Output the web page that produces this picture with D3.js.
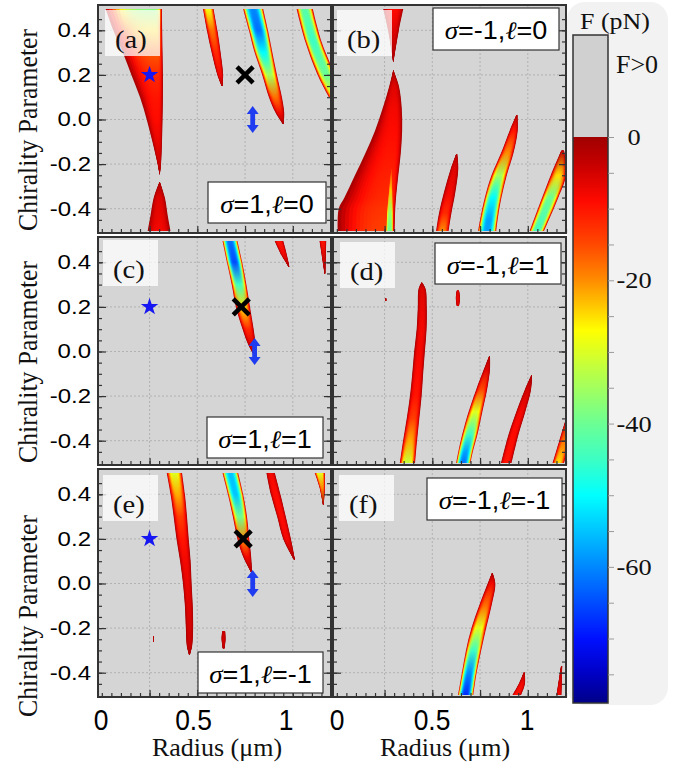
<!DOCTYPE html>
<html>
<head>
<meta charset="utf-8">
<title>Force maps</title>
<script src="https://d3js.org/d3.v7.min.js"></script>
<style>
  body { margin: 0; background: #fff; }
  svg { display: block; }
</style>
</head>
<body>
<svg width="680" height="765"></svg>
<script>
// panel texts
const panelLetters = ["(a)", "(b)", "(c)", "(d)", "(e)", "(f)"];
const panelSigma = ["1", "-1", "1", "-1", "1", "-1"];
const panelEll = ["0", "0", "1", "1", "-1", "-1"];

// axes
const chiTicks = [-0.4, -0.2, 0.0, 0.2, 0.4];
const radiusGrid = [0.25, 0.5, 0.75, 1.0];
const radiusLabels = [0, 0.5, 1];
const colorTicks = [0, -20, -40, -60];

// markers, left column panels (a), (c), (e)
const starR = [0.25, 0.25, 0.25];
const starChi = [0.2, 0.2, 0.2];
const crossR = [0.75, 0.73, 0.74];
const crossChi = [0.2, 0.2, 0.2];
const arrowR = [0.79, 0.80, 0.79];
const arrowChi = [0.0, 0.0, 0.0];

// force regions (F<0), one list of rows per region
// row: [chi, rLeft, rRight, Fcore] or [chi, rLeft, rCore, rRight, Fcore]
const regionsA = [
  [[0.495, 0.02, 0.27, 0.315, -38], [0.4, 0.06, 0.28, 0.316, -25], [0.3, 0.11, 0.29, 0.318, -16], [0.2, 0.155, 0.29, 0.32, -12], [0.1, 0.2, 0.29, 0.32, -10], [0.0, 0.235, 0.29, 0.318, -9], [-0.1, 0.265, 0.295, 0.315, -7], [-0.2, 0.292, 0.3, 0.31, -4], [-0.245, 0.302, 0.303, 0.304, -1]],
  [[-0.28, 0.302, 0.303, 0.304, -1], [-0.35, 0.272, 0.3, 0.33, -6], [-0.43, 0.255, 0.3, 0.345, -7], [-0.5, 0.24, 0.3, 0.36, -8]],
  [[0.495, 0.53, 0.585, -28], [0.4, 0.55, 0.605, -18], [0.3, 0.575, 0.622, -12], [0.2, 0.605, 0.635, -8], [0.15, 0.628, 0.632, -2]],
  [[0.495, 0.74, 0.845, -60], [0.4, 0.77, 0.87, -62], [0.3, 0.8, 0.893, -50], [0.2, 0.84, 0.917, -35], [0.1, 0.875, 0.943, -18], [0.03, 0.91, 0.955, -8], [-0.02, 0.948, 0.952, -1]],
  [[0.495, 1.02, 1.105, -42], [0.35, 1.065, 1.15, -45], [0.2, 1.13, 1.22, -40], [0.1, 1.19, 1.26, -30]]
];
const regionsB = [
  [[0.495, 0.243, 0.3, 0.348, -9], [0.4, 0.268, 0.3, 0.325, -6], [0.26, 0.295, 0.296, 0.297, -1]],
  [[0.22, 0.295, 0.296, 0.297, -1], [0.15, 0.275, 0.3, 0.325, -6], [0.05, 0.24, 0.3, 0.34, -8], [-0.05, 0.2, 0.3, 0.342, -9], [-0.15, 0.15, 0.295, 0.335, -10], [-0.25, 0.095, 0.29, 0.322, -11], [-0.35, 0.04, 0.285, 0.31, -12], [-0.4, 0.01, 0.28, 0.306, -13], [-0.5, 0.005, 0.275, 0.303, -14]],
  [[-0.155, 0.625, 0.63, -2], [-0.22, 0.597, 0.636, -6], [-0.33, 0.56, 0.62, -8], [-0.42, 0.535, 0.6, -12], [-0.5, 0.52, 0.585, -20]],
  [[0.02, 0.94, 0.945, -2], [-0.05, 0.905, 0.947, -10], [-0.15, 0.86, 0.925, -20], [-0.25, 0.81, 0.89, -35], [-0.35, 0.775, 0.862, -50], [-0.45, 0.75, 0.842, -58], [-0.5, 0.74, 0.835, -58]],
  [[-0.14, 1.175, 1.19, -3], [-0.25, 1.12, 1.2, -25], [-0.35, 1.075, 1.16, -40], [-0.5, 1.01, 1.085, -45]]
];
const regionsC = [
  [[0.495, 0.632, 0.71, -62], [0.4, 0.655, 0.735, -65], [0.3, 0.68, 0.757, -45], [0.2, 0.702, 0.776, -25], [0.1, 0.737, 0.795, -12], [0.03, 0.767, 0.805, -6], [-0.02, 0.798, 0.802, -1]],
  [[0.495, 0.905, 0.95, -10], [0.44, 0.935, 0.967, -8], [0.38, 0.978, 0.982, -1]],
  [[0.495, 1.14, 1.175, -10], [0.35, 1.166, 1.17, -1]]
];
const regionsD = [
  [[0.308, 0.443, 0.447, -2], [0.28, 0.428, 0.465, -6], [0.2, 0.424, 0.471, -7], [0.1, 0.418, 0.47, -8], [0.0, 0.405, 0.461, -8], [-0.1, 0.395, 0.452, -9], [-0.2, 0.383, 0.444, -10], [-0.3, 0.366, 0.432, -14], [-0.4, 0.347, 0.42, -22], [-0.5, 0.33, 0.41, -32]],
  [[0.238, 0.254, 0.259, -3], [0.226, 0.254, 0.259, -3]],
  [[0.272, 0.628, 0.64, -6], [0.24, 0.623, 0.645, -7], [0.205, 0.628, 0.64, -6]],
  [[-0.02, 0.798, 0.802, -1], [-0.08, 0.77, 0.802, -6], [-0.17, 0.73, 0.787, -15], [-0.27, 0.69, 0.762, -30], [-0.37, 0.657, 0.737, -45], [-0.45, 0.636, 0.712, -58], [-0.5, 0.625, 0.7, -62]],
  [[-0.108, 1.018, 1.022, -1], [-0.17, 0.985, 1.017, -5], [-0.27, 0.94, 0.987, -8], [-0.37, 0.9, 0.952, -9], [-0.5, 0.86, 0.915, -10]],
  [[-0.3, 1.2, 1.215, -3], [-0.4, 1.165, 1.215, -18], [-0.5, 1.13, 1.19, -25]]
];
const regionsE = [
  [[0.495, 0.34, 0.42, -30], [0.4, 0.36, 0.435, -22], [0.3, 0.376, 0.446, -14], [0.2, 0.391, 0.455, -10], [0.1, 0.41, 0.465, -8], [0.0, 0.425, 0.47, -7], [-0.1, 0.435, 0.476, -6], [-0.2, 0.44, 0.478, -5], [-0.28, 0.445, 0.473, -4], [-0.32, 0.457, 0.461, -1]],
  [[-0.235, 0.268, 0.272, -3], [-0.26, 0.268, 0.272, -3]],
  [[-0.215, 0.63, 0.646, -4], [-0.25, 0.627, 0.648, -5], [-0.29, 0.633, 0.643, -3]],
  [[0.495, 0.632, 0.714, -55], [0.4, 0.66, 0.74, -55], [0.3, 0.686, 0.76, -40], [0.2, 0.71, 0.772, -20], [0.12, 0.74, 0.782, -8], [0.05, 0.782, 0.786, -1]],
  [[0.495, 0.862, 0.906, -8], [0.4, 0.885, 0.935, -9], [0.3, 0.918, 0.963, -9], [0.2, 0.95, 0.99, -8], [0.105, 1.008, 1.012, -1]],
  [[0.495, 1.115, 1.168, -30], [0.43, 1.14, 1.168, -20], [0.352, 1.158, 1.162, -1]]
];
const regionsF = [
  [[0.046, 0.812, 0.816, -1], [0.0, 0.79, 0.83, -8], [-0.1, 0.745, 0.81, -18], [-0.2, 0.705, 0.782, -30], [-0.3, 0.676, 0.756, -45], [-0.4, 0.655, 0.732, -60], [-0.5, 0.635, 0.715, -68]],
  [[-0.4, 0.978, 0.984, -2], [-0.45, 0.953, 0.985, -8], [-0.5, 0.92, 0.965, -10]],
  [[-0.37, 1.174, 1.18, -2], [-0.5, 1.15, 1.176, -8]]
];
// stronger streaks lying inside a wider region (inner part only is drawn)
const streaksB = [
  [[-0.22, 0.284, 0.29, -12], [-0.32, 0.27, 0.294, -24], [-0.42, 0.258, 0.298, -36], [-0.5, 0.254, 0.299, -40]]
];
const regions = [regionsA, regionsB, regionsC, regionsD, regionsE, regionsF];
const streaks = [[], streaksB, [], [], [], []];

// jet-like colour map of F (pN)
const cmap = d3.scaleLinear()
  .domain([0, -4, -9, -15, -20, -27, -33, -40, -45, -50, -55, -60, -65, -70, -75, -79])
  .range(["#a00000", "#c80000", "#ff0a00", "#ff4800", "#ff8c00", "#ffff00", "#b8ff48", "#6cff94",
          "#3cffc4", "#00ffff", "#00c4ff", "#0088ff", "#004cff", "#0010ff", "#0000c4", "#000088"])
  .clamp(true);

const serif = "'Liberation Serif','Times New Roman',serif";
const sans = "'Liberation Sans',Arial,sans-serif";

const svg = d3.select("svg");
const defs = svg.append("defs");

const W = 233, H = 223;
const colX = [98, 333];
const rowY = [8, 240, 472];
const NL = 14;   // nested layers per region
let gid = 0;

function stretch(sel, k) {
  sel.each(function () {
    const w = this.getComputedTextLength();
    d3.select(this).attr("textLength", w * k).attr("lengthAdjust", "spacingAndGlyphs");
  });
}

function drawRegion(g, rows, xs, ys, kStart = 0) {
  const core = d => d.length === 5 ? d[2] : (d[1] + d[2]) / 2;
  const right = d => d.length === 5 ? d[3] : d[2];
  const force = d => d[d.length - 1];
  const yTop = ys(rows[0][0]), yBot = ys(rows[rows.length - 1][0]);
  for (let k = kStart; k < NL; k++) {
    const f = 1 - k / NL;
    const fm = f - 0.5 / NL;
    const id = "lg" + (gid++);
    const grad = defs.append("linearGradient").attr("id", id)
      .attr("gradientUnits", "userSpaceOnUse")
      .attr("x1", 0).attr("x2", 0).attr("y1", yTop).attr("y2", yBot);
    rows.forEach(d => grad.append("stop")
      .attr("offset", (ys(d[0]) - yTop) / (yBot - yTop))
      .attr("stop-color", cmap(force(d) * (1 - fm * fm * fm))));
    const area = d3.area()
      .curve(d3.curveCatmullRom)
      .y(d => ys(d[0]))
      .x0(d => xs(core(d) - f * (core(d) - d[1])))
      .x1(d => xs(core(d) + f * (right(d) - core(d))));
    g.append("path").attr("d", area(rows)).attr("fill", `url(#${id})`);
  }
}

// colour bar backdrop
svg.append("rect").attr("x", 567).attr("y", 2).attr("width", 101).attr("height", 703)
  .attr("rx", 18).attr("fill", "#f2f2f2");

// legend boxes [x, y, w, h]
const legendBox = [[208, 182, 118, 41], [433, 8, 126, 42], [207, 417, 116, 41],
                   [435, 243, 126, 41], [198, 652, 125, 41], [427, 478, 135, 42]];
const letterBox = [[105, 10], [337, 10], [103, 240], [340, 242], [103, 475], [339, 475]];

panelLetters.forEach((letter, i) => {
  const col = i % 2, row = Math.floor(i / 2);
  const xs = d3.scaleLinear().domain([-0.02, 1.2]).range([colX[col], colX[col] + W]);
  const ys = d3.scaleLinear().domain([-0.5, 0.5]).range([rowY[row] + H, rowY[row]]);
  const fx = colX[col], fy = rowY[row] - 3, fw = W, fh = H + 5;
  const g = svg.append("g");

  defs.append("clipPath").attr("id", "clip" + i).append("rect")
    .attr("x", fx).attr("y", fy).attr("width", fw).attr("height", fh);

  g.append("rect").attr("x", fx).attr("y", fy).attr("width", fw).attr("height", fh)
    .attr("fill", "#d5d5d5");

  // dashed grid
  g.selectAll(".gx").data(radiusGrid).join("line")
    .attr("x1", d => xs(d)).attr("x2", d => xs(d)).attr("y1", fy).attr("y2", fy + fh)
    .attr("stroke", "#a8a8a8").attr("stroke-width", 0.8).attr("stroke-dasharray", "2,2");
  g.selectAll(".gy").data(chiTicks).join("line")
    .attr("x1", fx).attr("x2", fx + fw).attr("y1", d => ys(d)).attr("y2", d => ys(d))
    .attr("stroke", "#a8a8a8").attr("stroke-width", 0.8).attr("stroke-dasharray", "2,2");

  const inner = g.append("g").attr("clip-path", `url(#clip${i})`);
  regions[i].forEach(rows => drawRegion(inner, rows, xs, ys));
  streaks[i].forEach(rows => drawRegion(inner, rows, xs, ys, 4));

  // ticks pointing inward
  const minorChi = d3.range(-9, 10).map(v => v * 0.05);
  const minorR = d3.range(0, 25).map(v => v * 0.05);
  const tickStyle = s => s.call(a => a.select(".domain").remove())
    .call(a => a.selectAll("line").attr("stroke", "#333").attr("stroke-width", 1.2));
  g.append("g").attr("transform", `translate(${fx},0)`)
    .call(d3.axisLeft(ys).tickValues(minorChi).tickSize(-4).tickFormat("")).call(tickStyle);
  g.append("g").attr("transform", `translate(${fx + fw},0)`)
    .call(d3.axisRight(ys).tickValues(minorChi).tickSize(-4).tickFormat("")).call(tickStyle);
  g.append("g").attr("transform", `translate(${fx + fw},0)`)
    .call(d3.axisRight(ys).tickValues(chiTicks).tickSize(-7).tickFormat("")).call(tickStyle);
  g.append("g").attr("transform", `translate(0,${fy + fh})`)
    .call(d3.axisBottom(xs).tickValues(minorR).tickSize(-4).tickFormat("")).call(tickStyle);
  g.append("g").attr("transform", `translate(0,${fy + fh})`)
    .call(d3.axisBottom(xs).tickValues(radiusGrid).tickSize(-7).tickFormat("")).call(tickStyle);
  const yAx = g.append("g").attr("transform", `translate(${fx},0)`)
    .call(d3.axisLeft(ys).tickValues(chiTicks).tickSize(-8).tickPadding(7)
      .tickFormat(col === 0 ? (d => d.toFixed(1)) : ""))
    .call(tickStyle);
  yAx.selectAll("text").attr("font-family", sans).attr("font-size", 20).attr("fill", "#000")
    .call(stretch, 1.2);

  g.append("rect").attr("x", fx).attr("y", fy).attr("width", fw).attr("height", fh)
    .attr("fill", "none").attr("stroke", "#333").attr("stroke-width", 2);

  // panel letter
  const lb = letterBox[i];
  g.append("rect").attr("x", lb[0]).attr("y", lb[1]).attr("width", 55).attr("height", 46)
    .attr("fill", "#fff").attr("fill-opacity", 0.75);
  g.append("text").attr("x", lb[0] + 10).attr("y", lb[1] + 38)
    .attr("font-family", serif).attr("font-size", 26).attr("fill", "#111")
    .text(letter).call(stretch, 1.1);

  // sigma / l legend
  const b = legendBox[i];
  g.append("rect").attr("x", b[0]).attr("y", b[1]).attr("width", b[2]).attr("height", b[3])
    .attr("fill", "#fff").attr("stroke", "#333").attr("stroke-width", 1.2);
  const t = g.append("text").attr("x", b[0] + b[2] / 2).attr("y", b[1] + 31)
    .attr("text-anchor", "middle").attr("font-size", 25).attr("fill", "#000");
  t.append("tspan").attr("font-family", serif).attr("font-style", "italic").text("σ");
  t.append("tspan").attr("font-family", sans).text("=" + panelSigma[i] + ",");
  t.append("tspan").attr("font-family", serif).attr("font-style", "italic").text("ℓ");
  t.append("tspan").attr("font-family", sans).text("=" + panelEll[i]);
  stretch(t, 1.08);

  // markers in left column
  if (col === 0) {
    svg.append("path")
      .attr("transform", `translate(${xs(starR[row])},${ys(starChi[row])})`)
      .attr("d", d3.symbol(d3.symbolStar).size(95)())
      .attr("fill", "#1616f2");
    svg.append("path")
      .attr("transform", `translate(${xs(crossR[row])},${ys(crossChi[row])})`)
      .attr("d", d3.symbol(d3.symbolX).size(170)())
      .attr("fill", "none").attr("stroke", "#000").attr("stroke-width", 4.5);
    const ax = xs(arrowR[row]), yT = ys(arrowChi[row] + 0.06), yB = ys(arrowChi[row] - 0.06);
    svg.append("path")
      .attr("d", `M${ax},${yT}L${ax + 6},${yT + 8}L${ax + 2.4},${yT + 8}L${ax + 2.4},${yB - 8}` +
                 `L${ax + 6},${yB - 8}L${ax},${yB}L${ax - 6},${yB - 8}L${ax - 2.4},${yB - 8}` +
                 `L${ax - 2.4},${yT + 8}L${ax - 6},${yT + 8}Z`)
      .attr("fill", "#1f3cf0");
  }
});

// y titles
const yTitleCenter = [130, 362, 616];
yTitleCenter.forEach(cy => {
  svg.append("text").attr("transform", `translate(37,${cy}) rotate(-90)`)
    .attr("text-anchor", "middle").attr("font-family", serif).attr("font-size", 27)
    .attr("fill", "#111").text("Chirality Parameter")
    .attr("textLength", 202).attr("lengthAdjust", "spacingAndGlyphs");
});

// bottom labels (placed as in the figure)
const labelRange = [[101, 286], [337, 527]];
labelRange.forEach((rg, c) => {
  const ls = d3.scaleLinear().domain([0, 1]).range(rg);
  svg.selectAll(null).data(radiusLabels).join("text")
    .attr("x", d => ls(d)).attr("y", 730).attr("text-anchor", "middle")
    .attr("font-family", sans).attr("font-size", 30).attr("fill", "#000")
    .text(d => d).call(stretch, 0.88);
  svg.append("text").attr("x", c === 0 ? 217 : 445).attr("y", 756).attr("text-anchor", "middle")
    .attr("font-family", serif).attr("font-size", 25).attr("fill", "#111")
    .text("Radius (μm)").call(stretch, 1.04);
});

// colour bar
const cy = d3.scaleLinear().domain([0, -79]).range([137, 703]);
const cbg = defs.append("linearGradient").attr("id", "cbar")
  .attr("gradientUnits", "userSpaceOnUse").attr("x1", 0).attr("x2", 0)
  .attr("y1", cy(0)).attr("y2", cy(-79));
cmap.domain().forEach(v => cbg.append("stop")
  .attr("offset", (cy(v) - cy(0)) / (cy(-79) - cy(0))).attr("stop-color", cmap(v)));
svg.append("rect").attr("x", 573).attr("y", 35).attr("width", 35).attr("height", cy(0) - 35)
  .attr("fill", "#d0d0d0");
svg.append("rect").attr("x", 573).attr("y", cy(0)).attr("width", 35).attr("height", cy(-79) - cy(0))
  .attr("fill", "url(#cbar)");
svg.append("rect").attr("x", 573).attr("y", 35).attr("width", 35).attr("height", cy(-79) - 35)
  .attr("fill", "none").attr("stroke", "#333").attr("stroke-width", 1.5);
svg.append("g").attr("transform", "translate(608,0)")
  .call(d3.axisRight(cy).tickValues(d3.range(0, 16).map(v => -5 * v)).tickSize(6).tickFormat(""))
  .call(a => a.select(".domain").remove())
  .call(a => a.selectAll("line").attr("stroke", "#9a9a9a").attr("stroke-width", 1));
svg.selectAll(null).data(colorTicks).join("text")
  .attr("x", 634).attr("y", d => cy(d) + 8).attr("text-anchor", "middle")
  .attr("font-family", serif).attr("font-size", 24).attr("fill", "#111")
  .text(d => d).call(stretch, 1.1);
svg.append("text").attr("x", 637).attr("y", 73).attr("text-anchor", "middle")
  .attr("font-family", serif).attr("font-size", 26).attr("fill", "#111").text("F>0");
svg.append("text").attr("x", 615).attr("y", 29).attr("text-anchor", "middle")
  .attr("font-family", serif).attr("font-size", 24).attr("fill", "#111")
  .text("F (pN)").call(stretch, 1.08);
</script>
</body>
</html>
